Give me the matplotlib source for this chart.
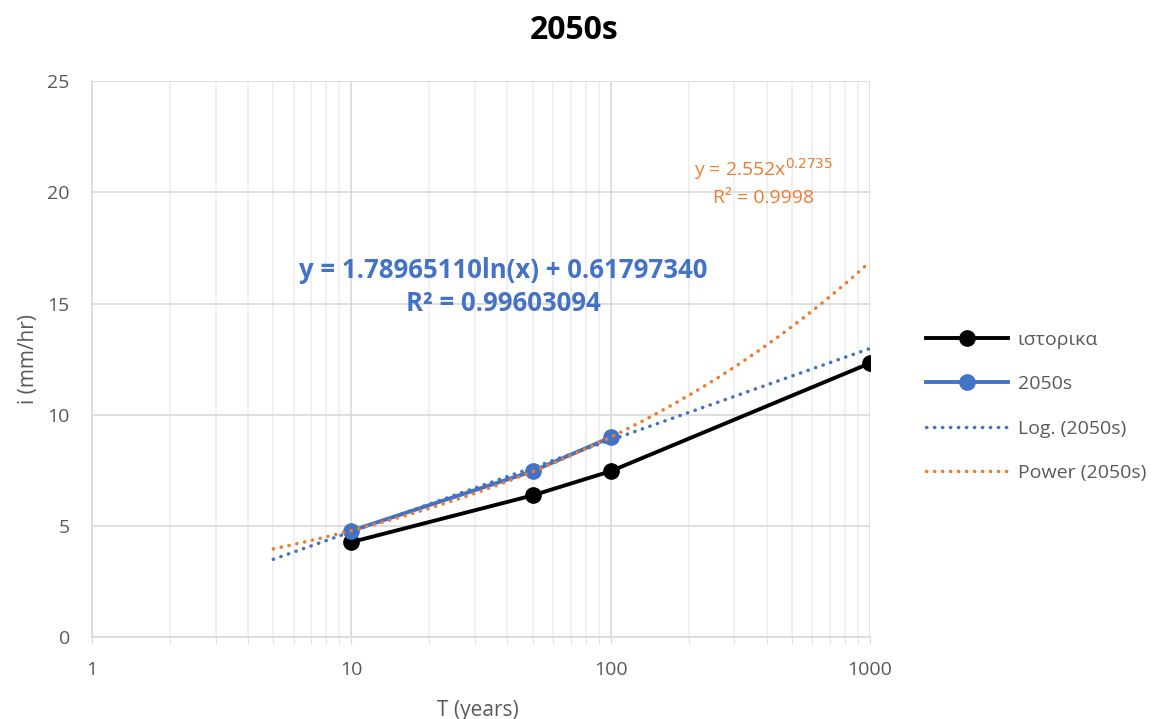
import numpy as np
import matplotlib.pyplot as plt
from matplotlib.ticker import NullFormatter, LogLocator

T_hist = [10, 50, 100, 1000]
i_hist = [4.27, 6.37, 7.46, 12.32]

T_2050 = [10, 50, 100]
i_2050 = [4.78, 7.46, 8.98]

# trendline coefficients as printed on the chart
log_a, log_b = 1.78965110, 0.61797340
pow_a, pow_b = 2.552, 0.2735
trend_T = [5, 1000]

plt.rcParams['font.family'] = ['Open Sans', 'DejaVu Sans']

fig = plt.figure(figsize=(11.56, 7.19), dpi=100)
ax = fig.add_axes([0.0796, 0.114, 0.673, 0.773])

grey = "#595959"
blue = "#4472C4"
orange = "#ED7D31"

tx = np.geomspace(trend_T[0], trend_T[1], 200)
ax.plot(T_hist, i_hist, color="black", lw=2.8, marker="o", ms=11, label="ιστορικα", zorder=3)
ax.plot(T_2050, i_2050, color=blue, lw=2.8, marker="o", ms=11, label="2050s", zorder=4)
ax.plot(tx, log_a * np.log(tx) + log_b, color=blue, lw=2.5, ls=(0, (0.1, 2.2)),
        dash_capstyle="round", label="Log. (2050s)", zorder=5)
ax.plot(tx, pow_a * tx ** pow_b, color=orange, lw=2.5, ls=(0, (0.1, 2.2)),
        dash_capstyle="round", label="Power (2050s)", zorder=5)

ax.set_xscale("log")
ax.set_xlim(1, 1000)
ax.set_ylim(0, 25)
ax.set_yticks([0, 5, 10, 15, 20, 25])
ax.set_xticks([1, 10, 100, 1000])
ax.set_xticklabels(["1", "10", "100", "1000"])
ax.xaxis.set_minor_locator(LogLocator(base=10, subs=np.arange(2, 10)))
ax.xaxis.set_minor_formatter(NullFormatter())

ax.grid(True, which="major", color="#d9d9d9", lw=1.2)
ax.grid(True, which="minor", axis="x", color="#eeeeee", lw=1.2)
ax.set_axisbelow(True)
for s in ["top", "right"]:
    ax.spines[s].set_visible(False)
for s in ["left", "bottom"]:
    ax.spines[s].set_color("#d9d9d9")
    ax.spines[s].set_linewidth(1.2)

ax.tick_params(axis="y", length=0, labelsize=14, labelcolor=grey, pad=16)
ax.tick_params(axis="x", which="both", length=5, color="#d9d9d9", labelsize=14,
               labelcolor=grey, pad=12)

ax.set_ylabel("i (mm/hr)", fontsize=15, color=grey, labelpad=6)
fig.text(0.4136, 0.0125, "T (years)", fontsize=15, color=grey, ha="center", va="center")
fig.text(0.497, 0.958, "2050s", fontsize=23, fontweight="bold", color="black",
         ha="center", va="center")

ax.text(0.529, 0.63, "y = 1.78965110ln(x) + 0.61797340\nR² = 0.99603094",
        transform=ax.transAxes, ha="center", va="center", color=blue,
        fontsize=18.5, fontweight="bold", linespacing=1.3)
ax.text(0.863, 0.842, "y = 2.552x$^{0.2735}$",
        transform=ax.transAxes, ha="center", va="center", color=orange, fontsize=14)
ax.text(0.863, 0.79, "R² = 0.9998",
        transform=ax.transAxes, ha="center", va="center", color=orange, fontsize=14)

leg = ax.legend(loc="center left", bbox_to_anchor=(1.05, 0.415), frameon=False,
                fontsize=14, labelcolor=grey, handlelength=4.2, labelspacing=1.35,
                handletextpad=0.5)

fig.savefig("out.png", dpi=100)
